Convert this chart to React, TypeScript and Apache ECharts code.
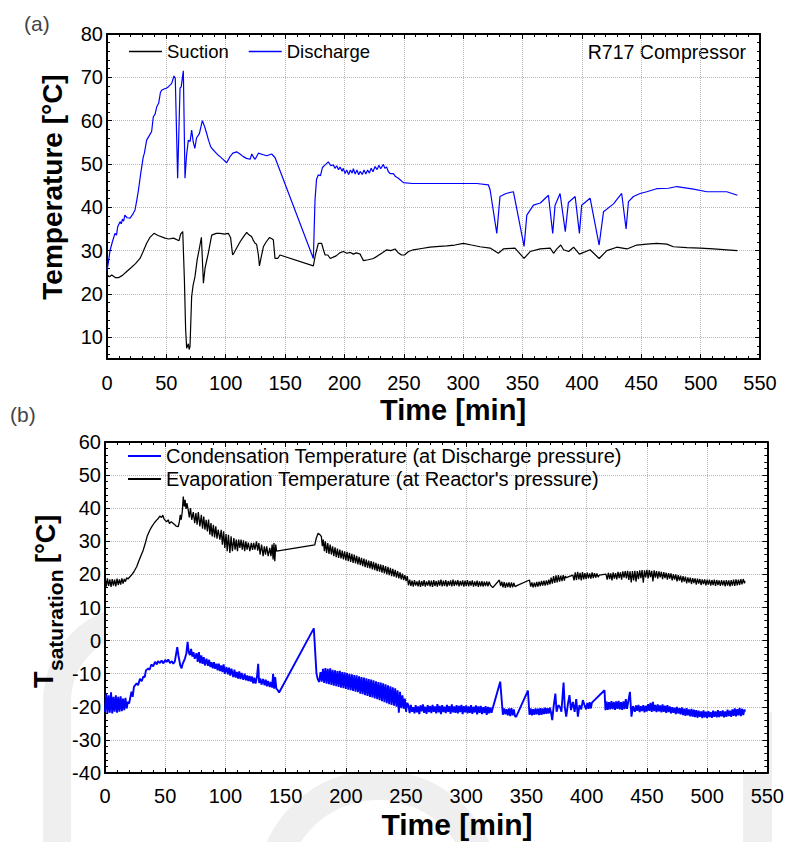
import React, { useEffect, useRef } from "react";
import * as echarts from "echarts";

const F = "'Liberation Sans', Arial, sans-serif";

// ---------- Panel (a): compressor temperatures [time min, °C] ----------
const suction: number[][] = [
  [0, 24.4], [2, 24.0], [4, 24.4], [7, 23.8], [10, 23.8], [13, 24.3], [16.6, 25.2], [20, 26], [24, 27], [27.8, 28.2],
  [30, 29.5], [33.4, 31.7], [36, 33], [39.6, 34], [43, 33.5], [48.9, 32.9], [52, 32.7], [56, 32.9], [60.7, 32.3],
  [62, 33.8], [63.8, 34.4], [65.2, 23.2], [66.2, 12], [67.1, 7.5], [68.5, 8.5], [69.2, 7.2], [69.9, 7.8], [71.3, 19.4],
  [72.5, 22], [74.1, 24], [76, 28], [77.8, 30.5], [79.5, 33.1], [81.2, 22.5], [82.6, 26], [85.3, 29.4], [88.2, 33.6],
  [92, 34], [95.2, 34], [99, 33.8], [102.2, 34], [104.1, 33], [105.8, 29], [107, 29.5], [109.2, 30.6], [112, 32],
  [114.9, 33.2], [117.7, 34.2], [119, 33.8], [121.9, 33.2], [123, 32.5], [124.7, 31.7], [126, 31.5], [127.5, 29],
  [128.4, 26.5], [129.5, 28], [131.7, 30.9], [134, 32], [136.8, 33], [138.5, 32.8], [140.1, 32.5], [141.5, 28.2],
  [143.8, 28.2], [145.7, 29], [173.8, 26.5], [175.5, 29], [178, 31.7], [180.8, 31.7], [182, 30.5], [183.7, 29],
  [186, 29], [188, 28.2], [190.6, 28.5], [193, 28.8], [196, 29.5], [199, 29.8], [202, 29.4], [205, 29.6], [207.5, 29.2],
  [210, 29.5], [213.2, 29.2], [214.5, 28.5], [216, 27.7], [220, 27.9], [224.4, 28.2], [228, 28.8], [232, 29.5],
  [235.6, 30.2], [239, 30], [242.6, 30.4], [245, 29.6], [248, 29], [250.5, 29], [254, 29.8], [258, 30.2], [265, 30.5],
  [272, 30.8], [280, 31], [286.2, 31.1], [293, 31.3], [300.2, 31.7], [307, 31.3], [314.2, 30.9], [322.7, 30.6],
  [329.6, 29.4], [333.8, 30.4], [343.6, 30.6], [351.3, 28.2], [356.4, 29.8], [364.8, 30.4], [373.3, 30.6], [376.1, 29.4],
  [378.9, 30.4], [382.2, 31.3], [384.5, 30.2], [388.8, 29.8], [393, 30.8], [397.9, 29.2], [406.9, 30.2], [414.5, 28.2],
  [421, 30], [429.4, 30.8], [437.9, 30.4], [446.2, 31.3], [454.6, 31.5], [463, 31.7], [471.5, 31.5], [477.1, 30.9],
  [488.4, 30.7], [499.6, 30.6], [510.9, 30.4], [522, 30.2], [531, 30],
];

const discharge: number[][] = [
  [0, 25.5], [1, 27], [2.6, 30.1], [4.5, 32], [6.7, 34], [8, 33.6], [9, 35.5], [11, 36.7], [12, 36.2], [13, 37.3],
  [14, 36.8], [15, 38.2], [17, 37.6], [19.4, 37.5], [21.5, 38.3], [23.6, 39.4], [25, 41.5], [26.5, 44], [28.5, 48],
  [30.5, 51.6], [31.5, 52.5], [33.4, 55.5], [35.5, 56.5], [37.6, 57.5], [39, 60.9], [40.5, 61.5], [41.9, 63.2],
  [43.5, 64], [45, 66.5], [46, 67], [48, 67.3], [50.3, 67.5], [52, 67.9], [54.5, 68.6], [56.4, 70.3], [57.5, 69.8],
  [59.5, 46.7], [61.5, 67.5], [62.5, 67.8], [64.3, 71.5], [65.7, 46.7], [67, 52], [68.5, 55.5], [70, 55.2], [71.3, 57.8],
  [72.7, 55], [74, 53.6], [75.4, 56], [77.8, 57], [80.3, 60], [82, 58.8], [83.9, 57.1], [85.5, 55.5], [87.3, 54],
  [89, 53.4], [91, 52.8], [93, 52.2], [95.2, 51.7], [98, 51], [100.8, 50.3], [103.6, 51.7], [106, 52.5], [109.2, 52.8],
  [112, 52.3], [114.8, 51.7], [117.5, 51.3], [120.5, 51.1], [122, 52.3], [123.5, 51.5], [124.8, 51.1], [127.5, 52.5],
  [131, 52.2], [134.5, 51.9], [138.7, 52.3], [141.5, 51.5], [173.8, 28.2], [175.2, 41.7], [176.5, 46.5], [178, 47.5],
  [179.8, 47.3], [181.5, 49.2], [183.7, 49.8], [186.4, 50.5], [188.5, 49.6], [190.6, 49.8], [192, 49], [193.5, 49.6],
  [195, 48.7], [196.3, 49.3], [198, 48.3], [199, 49], [200.5, 47.8], [201.9, 48.6], [203.5, 47.6], [205, 48.6],
  [206.5, 47.9], [207.5, 48.9], [209, 47.7], [210.5, 48.6], [212, 47.5], [213.2, 48.3], [215, 47.6], [216.5, 48.6],
  [218, 47.7], [219.5, 48.6], [221, 47.9], [222.5, 49], [224, 48.2], [225.8, 49.4], [227.5, 48.7], [229, 49.7],
  [230.5, 48.9], [232.8, 49.9], [234, 49], [235.5, 49.3], [237, 48.2], [238.5, 47.8], [241.2, 47.8], [243, 47.1],
  [245.4, 46.7], [249.7, 45.7], [256.9, 45.5], [270, 45.5], [286, 45.5], [300, 45.5], [311.5, 45.5], [321.2, 45.2],
  [322.7, 44], [328.3, 34], [331, 42.5], [336, 43.2], [342.3, 43.6], [351.3, 31], [353.6, 38.2], [359.2, 40.5],
  [365, 41], [371.8, 42.8], [375.4, 34], [377.4, 40.5], [381.6, 43.2], [386, 34.4], [388.6, 41.1], [394.3, 42.5],
  [397.9, 34], [399.8, 40.5], [406.9, 42.1], [414.5, 31.3], [418.2, 39], [426.6, 40.8], [433.5, 43.2], [437.2, 35],
  [439.2, 41.3], [443.4, 42.5], [449, 43.2], [454.6, 43.6], [463, 44.3], [472.9, 44.4], [480, 44.8], [494, 44.2],
  [505.3, 43.6], [515, 43.6], [522, 43.6], [531, 42.8],
];

// ---------- Panel (b): saturation temperatures [time min, °C] ----------
const condensation: number[][] = [
  [0, -21.5], [1, -16], [2, -22], [3, -16.5], [4, -21.8], [5, -15.6], [6, -22], [7, -17], [8, -21.5], [9, -16.5],
  [10, -21.8], [11, -17], [12, -21.5], [13, -16.8], [14, -21.3], [15, -17.5], [16, -21], [17, -17.3], [18, -20.5],
  [19, -18.5], [20, -19], [22, -15.4], [23, -17], [24, -14], [26.3, -12.9], [27.5, -13.5], [29, -11.5], [30.5, -12.3],
  [31.8, -10.9], [33, -11], [34, -9], [35.9, -8.4], [37, -8.8], [38.5, -7.2], [40, -7.8], [41.5, -6.4], [43, -7.2],
  [44, -6.2], [45.6, -6.8], [47, -6], [48.5, -6.9], [50, -5.8], [51.2, -6.5], [52.5, -5.7], [54, -6.8], [55.5, -6.2],
  [56.7, -7], [58, -6.3], [60, -2], [61, -4.5], [62.5, -7.5], [63.6, -8.4], [64.5, -7], [66.3, -5.5], [67.5, -4],
  [68.6, -0.4], [69.5, -3.5], [70.5, -4.4], [71.5, -2.5], [72.5, -4.8], [73.5, -3.5], [74.5, -5.5], [76, -3.8],
  [77, -6.4], [78, -3.5], [79, -6.8], [80, -4.5], [81, -7], [82, -5], [83, -7.5], [84.3, -5.5], [85.5, -7.6],
  [86.5, -5.8], [87.5, -8], [88.5, -6.5], [89.5, -8.4], [90.5, -6.5], [91.5, -8.5], [92.6, -7], [93.5, -9], [94.5, -7],
  [95.5, -9.2], [96.5, -7.5], [97.5, -9.5], [98.5, -7.2], [99.5, -10], [100.9, -8], [102, -10.2], [103, -8.2],
  [104, -10.6], [105, -8.5], [106.5, -11], [107.5, -8.8], [108.5, -11.2], [109.5, -9.5], [110.5, -11.5], [111.5, -9.3],
  [112.5, -11.6], [113.5, -9.8], [114.8, -11.8], [116, -10], [117, -12], [118, -10.5], [119, -12.2], [120, -10.7],
  [121, -12.4], [122, -10.8], [123, -12.9], [124, -11.2], [125, -13], [126.2, -11], [127.2, -7], [128, -12.8],
  [129, -11.4], [130, -13.3], [131.3, -11.6], [132.5, -13.5], [133.5, -11.8], [134.5, -13.8], [135.5, -12.2],
  [136.8, -14], [137.8, -12.5], [138.8, -14.2], [139.6, -10], [140.5, -14.5], [141.3, -11], [142.3, -14.5], [143.5, -15],
  [144.6, -15.7], [173.4, 3.7], [175.6, -9.9], [176.5, -11.5], [177.9, -12.5], [179, -9.5],
  [180, -12.4], [181, -8.5], [182, -12.8], [183, -8.3], [184, -13], [185, -8.5], [186, -13.2], [187, -8.4], [188, -13.4],
  [189, -8.8], [190, -13.6], [191, -9], [192, -13.8], [193, -9.2], [194, -14], [195, -9.1], [196, -14.2], [197, -9.5],
  [198, -14.4], [199, -9.6], [200, -14.6], [201, -9.8], [202, -14.8], [203, -10], [204, -15], [205, -10.2], [206, -15.2],
  [207, -10.4], [208, -15.4], [209, -10.5], [210, -15.6], [211, -10.8], [212, -16], [213, -11], [214, -16.2],
  [215, -11.2], [216, -16.5], [217, -11.4], [218, -16.7], [219, -11.6], [220, -17], [221, -11.8], [222, -17.2],
  [223, -12], [224, -17.5], [225, -12.3], [226, -17.7], [227, -12.5], [228, -18], [229, -12.7], [230, -18.3],
  [231, -12.9], [232, -18.6], [233, -13.2], [234, -18.9], [235, -13.5], [236, -19.2], [237, -13.8], [238, -19.4],
  [239, -14.1], [240, -19.7], [241, -14.4], [242, -20], [243, -15], [244, -21.8], [245, -15.5], [246, -20.4],
  [247, -16.5], [248, -20.6], [249, -17.5], [250, -21.5], [251, -18.8],
  [252, -19.6], [253, -21.9], [254, -19.4], [255, -21.5], [256, -20.1], [257, -22], [258, -19.5], [259, -21.7],
  [260, -19.9], [261, -22.2], [262, -19.6], [263, -21.4], [264, -19.3], [265, -21.8], [266, -20], [267, -22.1],
  [268, -19.5], [269, -21.6], [270, -19.8], [271, -21.9], [272, -19.4], [273, -21.5], [274, -19.9], [275, -22],
  [276, -19.2], [277, -21.7], [278, -19.7], [279, -22.2], [280, -19.5], [281, -21.6], [282, -20], [283, -21.9],
  [284, -19.4], [285, -21.5], [286, -19.8], [287, -22.1], [288, -19.3], [289, -21.7], [290, -19.9], [291, -21.8],
  [292, -19.5], [293, -22], [294, -19.7], [295, -21.6], [296, -19.4], [297, -22.2], [298, -19.8], [299, -21.7],
  [300, -19.6], [301, -22], [302, -19.9], [303, -21.8], [304, -19.5], [305, -22.1], [306, -20], [307, -21.7],
  [308, -19.6], [309, -22.3], [310, -19.9], [311, -21.8], [312, -19.7], [313, -22.2], [314, -20.1], [315, -21.9],
  [316, -19.8], [317, -22.4], [318, -20], [319, -22], [320, -20.2], [321, -21.8], [322, -20.4],
  [328.2, -12.4], [330.4, -22.4], [331.5, -20.5], [332.5, -22.3], [333.5, -20.7], [334.5, -22.6], [335.5, -20.5],
  [336.5, -22.8], [337.5, -20.4], [338.5, -22.6], [339.5, -20.8], [340.5, -22.9], [341.5, -23],
  [351.2, -15.1], [352.5, -22.4], [353.5, -20.5], [354.5, -22.6], [355.5, -20.7], [356.5, -22.4], [357.5, -20.5],
  [358.5, -22.3], [359.5, -20.6], [360.5, -22.5], [361.5, -20.4], [362.5, -22.4], [363.5, -20.5], [364.5, -22.2],
  [365.5, -20.3], [366.5, -22.1], [367.5, -20.4], [368.5, -22], [369.5, -20.3], [370.5, -22], [371.4, -24],
  [372.5, -20], [374, -16], [375, -21.5], [376.5, -19.5], [378, -20.2], [379, -21.5], [380.8, -12.7], [381.8, -20],
  [383, -23], [384.5, -19], [385.7, -16.5], [387, -21], [388.5, -18.5], [390, -21.5], [391.3, -17.7], [392.7, -23],
  [394, -19.5], [395.5, -20.8], [396.8, -18], [398.2, -19.5], [399.5, -20.8], [400.5, -18.8], [401.5, -20.6],
  [402.5, -18.6], [403.5, -20.5], [404.3, -18.8], [405, -18.5], [414.8, -15], [415.6, -21], [416.5, -18.4],
  [417.5, -20.9], [418.5, -18.6], [419.5, -20.8], [420.5, -18.3], [421.5, -20.7], [422.5, -18.5], [423.5, -20.9],
  [424.5, -18.4], [425.5, -20.6], [426.5, -18.2], [427.5, -20.8], [428.5, -18.6], [429.5, -20.9], [430.5, -18.4],
  [431.5, -20.7], [432.5, -17.7], [433.5, -20.6], [434.5, -18.5], [435.9, -15.5], [437.2, -23], [438.5, -19.8],
  [440, -21.5], [441, -19.6], [442, -21.2], [443, -19.4], [444, -21.6], [445, -19.8], [446, -21.3], [447, -19.5],
  [448, -21.7], [449, -19.7], [450, -21.4], [451, -19.2], [452, -21.2], [453, -18.8], [454, -21.5], [455, -18.5],
  [456, -21.3], [457, -19.4], [458, -21.6], [459, -19.3], [460, -21.4], [461, -19.6], [462, -21.7], [463, -19.3],
  [464, -21.5], [465, -19.7], [466, -21.8], [467, -19.5], [468, -21.6], [469, -19.9], [470, -22], [471, -20.1],
  [472, -21.8], [473, -20.3], [474, -22.2], [475, -20], [476, -22], [477, -20.4], [478, -22.3], [479, -20.2],
  [480, -22.5], [481, -20.6], [482, -22.7], [483, -20.4], [484, -22.6], [485, -20.8], [486, -22.9], [487, -20.6],
  [488, -23], [489, -20.9], [490, -23.1], [491, -21], [492, -23.3], [493, -21.2], [494, -23], [495, -21.4],
  [496, -23.4], [497, -21.1], [498, -23.2], [499, -21.5], [500, -23.4], [501, -21.3], [502, -23.1], [503, -21.6],
  [504, -23.3], [505, -21.2], [506, -23], [507, -21.4], [508, -23.2], [509, -21], [510, -23.1], [511, -21.3],
  [512, -22.9], [513, -21.1], [514, -23.2], [515, -21.4], [516, -23], [517, -20.9], [518, -22.8], [519, -21.2],
  [520, -23], [521, -20.8], [522, -22.7], [523, -20.5], [524, -22.9], [525, -20.7], [526, -22.6], [527, -20.3],
  [528, -22.8], [529, -20.6], [530, -22.5], [531, -20.8], [531.5, -21.5],
];

const evaporation: number[][] = [
  [0, 19.3], [1, 16.3], [2, 18.8], [3, 16.5], [4, 18.5], [5, 16.2], [6, 18.6], [7, 16.6], [8, 18.4], [9, 16.4],
  [10, 18.7], [11, 16.8], [12, 18.5], [13, 16.9], [14, 18.8], [15, 17.2], [16, 18.6], [17, 17.8], [18, 19], [19, 18.6],
  [20.7, 19.3], [22, 19.8], [24, 20.8], [26.3, 22.3], [28, 24], [30, 25.8], [31.8, 27.4], [33.5, 29.5], [35, 31.5],
  [37.3, 33.4], [39, 34.5], [41, 35.6], [42.9, 36.4], [44, 36.8], [45.5, 37.6], [47, 37.2], [48, 37.9], [49, 36.8],
  [50, 36.3], [51.2, 35.9], [52.5, 36.5], [53.5, 35.4], [55, 35.9], [56.7, 35.4], [58, 35], [59, 34.6], [60.8, 34.4],
  [61.8, 36], [62.5, 38], [63.3, 36.5], [64.2, 39], [65, 43.5], [65.8, 40.5], [66.5, 42.5], [67.3, 39.8], [68, 41.5],
  [69.1, 39.5], [70, 37.2], [71, 40], [72, 36.5], [73.3, 38.8], [74.5, 35.5], [75.5, 38.5], [76.5, 35], [77.5, 38.8],
  [78.8, 34.5], [80, 38], [81, 33.8], [82, 37.5], [83, 33.5], [84, 36.5], [85, 33], [86, 36.6], [87.1, 32], [88, 35.5],
  [89, 31.5], [90, 35], [91, 31.2], [92, 34.5], [93, 30.8], [94, 33.5], [95.4, 30.5], [96.5, 33.5], [97.5, 29],
  [98.5, 33], [99.5, 28], [100.5, 32.2], [101.5, 27], [102.5, 32], [103.7, 26.5], [104.7, 31.5], [105.8, 27], [107, 31],
  [108, 27.5], [109, 30.5], [110, 27], [111, 30.5], [112, 28], [113, 30.5], [114, 27.5], [115, 30.3], [116, 27],
  [117, 30], [118, 27.5], [119, 29.6], [120.3, 27], [121.5, 29.5], [122.5, 27.4], [123.5, 29.5], [124.5, 27.5],
  [125.8, 30], [126.8, 27.2], [127.8, 29.5], [128.8, 26], [130, 29], [131.3, 25.5], [132.3, 28.5], [133.3, 26],
  [134.3, 28.5], [135.5, 25.5], [136.8, 28], [137.8, 25.5], [138.8, 29], [139.6, 24.5], [140.3, 29.5], [141, 24],
  [141.8, 29], [142.5, 27], [174.2, 28.9], [175.5, 31], [177, 32.4], [178.5, 32], [179.7, 31.4], [180.5, 28.5],
  [181.3, 30.5], [182.2, 27], [183, 30], [184, 26.5], [185, 29.5], [186, 26.2], [187, 29], [188, 26], [189, 28.5],
  [190, 25.5], [191, 28.2], [192, 25.2], [193, 27.8], [194, 25], [195, 27.5], [196, 24.8], [197, 27.2], [198, 24.5],
  [199, 27], [200, 24.2], [201, 26.8], [202, 24], [203, 26.5], [204, 23.8], [205, 26.2], [206, 23.5], [207, 26],
  [208, 23.3], [209, 25.6], [210, 23], [211, 25.3], [212, 22.8], [213, 25], [214, 22.5], [215, 24.8], [216, 22.2],
  [217, 24.5], [218, 22], [219, 24.2], [220, 21.8], [221, 24], [222, 21.5], [223, 23.8], [224, 21.3], [225, 23.5],
  [226, 21], [227, 23.2], [228, 20.8], [229, 23], [230, 20.5], [231, 22.8], [232, 20.3], [233, 22.5], [234, 20],
  [235, 22.3], [236, 19.8], [237, 22], [238, 19.5], [239, 21.7], [240, 19.3], [241, 21.4], [242, 19], [243, 21],
  [244, 18.8], [245, 20.6], [246, 18.5], [247, 20.2], [248, 18.3], [249, 19.8], [250, 18], [251, 19.5],
  [252, 16.7], [253, 18.4], [254, 16.5], [255, 18.1], [256, 16.3], [257, 18.3], [258, 16.6], [259, 17.9], [260, 16.4],
  [261, 18.2], [262, 16.2], [263, 18], [264, 16.5], [265, 18.3], [266, 16.3], [267, 17.9], [268, 16.6], [269, 18.2],
  [270, 16.4], [271, 18.1], [272, 16.2], [273, 18.3], [274, 16.5], [275, 18], [276, 16.3], [277, 18.2], [278, 16.6],
  [279, 18.4], [280, 16.4], [281, 18.1], [282, 16.5], [283, 18.3], [284, 16.3], [285, 18], [286, 16.6], [287, 18.2],
  [288, 16.4], [289, 18.4], [290, 16.5], [291, 18.1], [292, 16.7], [293, 18.3], [294, 16.4], [295, 18], [296, 16.6],
  [297, 18.2], [298, 16.3], [299, 18.1], [300, 16.5], [301, 18.3], [302, 16.4], [303, 18], [304, 16.6], [305, 18.2],
  [306, 16.3], [307, 17.9], [308, 16.5], [309, 18.1], [310, 16.2], [311, 17.9], [312, 16.4], [313, 18], [314, 16.3],
  [315, 17.8], [316, 16.5], [317, 17.9], [318, 16.4], [319, 17.8], [320, 16.8], [322, 16],
  [327.5, 18.3], [328.5, 16.5], [329.5, 17.8], [330.5, 16.1], [331.5, 17.7], [332.5, 15.9], [333.5, 17.5],
  [334.5, 16.2], [335.5, 17.6], [336.5, 16], [337.5, 17.6], [338.5, 16.1], [339.5, 17.4], [340.5, 16.3], [342, 16.6],
  [352.5, 18.3], [353.5, 16.3], [354.5, 17.6], [355.5, 16.1], [356.5, 17.5], [357.5, 16.2], [358.5, 17.7],
  [359.5, 16.3], [360.5, 17.8], [361.5, 16.5], [362.5, 18], [363.5, 16.6], [364.5, 18.1], [365.5, 16.6], [366.5, 18.2],
  [367.5, 16.8], [368.5, 18.4], [369.5, 17], [370.5, 19], [371.5, 17.2], [372.5, 19.5], [373.5, 17.4], [374.5, 19.7],
  [375.5, 17.6], [376.5, 19.8], [377.5, 17.8], [378.5, 19.6], [379.5, 18], [380.5, 19.8], [381.5, 18.1],
  [382.2, 19.5], [383, 19], [388.5, 19.8], [389.5, 18.2], [390.5, 20.6], [391.5, 18.3], [392.5, 20.8], [393.5, 18.5],
  [394.5, 20.5], [395.5, 18.2], [396.5, 20.7], [397.5, 18.5], [398.5, 20.4], [399.5, 18.6], [400.5, 20.5],
  [401.5, 18.8], [402.5, 20.3], [403.5, 18.7], [404.5, 20.6], [405.5, 18.9], [406.5, 20.4], [407.5, 19],
  [408.5, 20.3], [409.5, 19.2], [410.5, 19.8],
  [416, 20.1], [417, 18.4], [418, 20.5], [419, 18.6], [420, 20.3], [421, 18.2], [422, 20.6], [423, 18.7], [424, 20.4],
  [425, 18.5], [426, 20.8], [427, 18.9], [428, 20.6], [429, 18.4], [430, 20.9], [431, 19], [432, 21], [433, 18.8],
  [434, 21.1], [435, 18.3], [436, 20.9], [437, 17.6], [438, 21], [439, 18.2], [440, 21.1], [441, 17.8], [442, 21],
  [443, 18.6], [444, 21.2], [445, 18.9], [446, 21.3], [447, 17.5], [448, 21.2], [449, 19.1], [450, 21.4], [451, 18.8],
  [452, 21.3], [453, 19.2], [454, 21.1], [455, 17.9], [456, 21.2], [457, 19], [458, 21], [459, 18.7], [460, 20.9],
  [461, 19.1], [462, 20.8], [463, 18.6], [464, 20.7], [465, 18.9], [466, 20.5], [467, 18.4], [468, 20.4], [469, 18.7],
  [470, 20.3], [471, 18.2], [472, 20.1], [473, 18.4], [474, 20], [475, 17.9], [476, 19.8], [477, 18.1], [478, 19.6],
  [479, 17.6], [480, 19.5], [481, 17.8], [482, 19.3], [483, 17.3], [484, 19.1], [485, 17.5], [486, 19], [487, 17.1],
  [488, 18.9], [489, 17.4], [490, 18.8], [491, 16.9], [492, 18.7], [493, 17.2], [494, 18.6], [495, 16.8], [496, 18.5],
  [497, 17.1], [498, 18.5], [499, 16.7], [500, 18.4], [501, 16.9], [502, 18.4], [503, 16.6], [504, 18.3], [505, 16.8],
  [506, 18.4], [507, 16.5], [508, 18.3], [509, 16.8], [510, 18.2], [511, 16.5], [512, 18.3], [513, 16.7], [514, 18.2],
  [515, 16.4], [516, 18.3], [517, 16.6], [518, 18.2], [519, 16.4], [520, 18.3], [521, 16.6], [522, 18.4], [523, 16.5],
  [524, 18.5], [525, 16.7], [526, 18.4], [527, 16.8], [528, 18.6], [529, 17], [530, 18.6], [531, 17.3], [531.5, 18],
];

const seriesNamesA = ["Suction", "Discharge"];
const seriesNamesB = [
  "Condensation Temperature (at Discharge pressure)",
  "Evaporation Temperature (at Reactor's pressure)",
];

function xAxisDef(gridIndex: number, pos: "bottom" | "top", margin: number) {
  const main = pos === "bottom";
  return {
    type: "value",
    gridIndex,
    position: pos,
    min: 0,
    max: 550,
    interval: 50,
    axisLine: { show: true, onZero: false, lineStyle: { color: "#000", width: 2 } },
    axisTick: { show: true, inside: true, length: 5, lineStyle: { color: "#000", width: 1 } },
    minorTick: { show: true, splitNumber: 5, length: 3, lineStyle: { color: "#000", width: 1 } },
    axisLabel: { show: main, fontSize: 20, color: "#000", fontFamily: F, margin },
    splitLine: { show: main, lineStyle: { color: "#b8b8b8", width: 1, type: "dotted" } },
    minorSplitLine: { show: false },
  };
}

function yAxisDef(gridIndex: number, pos: "left" | "right", range: any) {
  const main = pos === "left";
  return {
    type: "value",
    gridIndex,
    position: pos,
    ...range,
    axisLine: { show: true, onZero: false, lineStyle: { color: "#000", width: 2 } },
    axisTick: { show: true, inside: true, length: 5, lineStyle: { color: "#000", width: 1 } },
    minorTick: { show: true, splitNumber: 5, length: 3, lineStyle: { color: "#000", width: 1 } },
    axisLabel: { show: main, fontSize: 20, color: "#000", fontFamily: F, margin: 4, showMinLabel: range.min !== 5 },
    splitLine: { show: main, lineStyle: { color: "#b8b8b8", width: 1, type: "dotted" } },
  };
}

const rangeA = { min: 5, max: 80, splitNumber: 7 };
const rangeB = { min: -40, max: 60, interval: 10 };

const WM = "#efefef";

export default function App() {
  const ref = useRef<HTMLDivElement>(null);
  useEffect(() => {
    document.body.style.margin = "0";
    if (!ref.current) return;
    const chart = echarts.init(ref.current, undefined, { renderer: "svg" });
    const bold = { fontFamily: F, fontWeight: "bold", fill: "#000" };
    chart.setOption({
      animation: false,
      backgroundColor: "#fff",
      grid: [
        { left: 107, top: 34, width: 653, height: 325, show: true, backgroundColor: "#fff", borderWidth: 0 },
        { left: 105, top: 442, width: 663, height: 331, show: true, backgroundColor: "#fff", borderWidth: 0 },
      ],
      xAxis: [xAxisDef(0, "bottom", 14), xAxisDef(0, "top", 14), xAxisDef(1, "bottom", 13), xAxisDef(1, "top", 13)],
      yAxis: [yAxisDef(0, "left", rangeA), yAxisDef(0, "right", rangeA), yAxisDef(1, "left", rangeB), yAxisDef(1, "right", rangeB)],
      legend: [
        {
          data: seriesNamesA.map((n) => ({ name: n, icon: "rect" })),
          left: 129,
          top: 42,
          padding: 0,
          orient: "horizontal",
          itemWidth: 33,
          itemHeight: 1.5,
          itemGap: 20,
          selectedMode: false,
          textStyle: { fontSize: 18.5, color: "#000", fontFamily: F },
        },
        {
          data: seriesNamesB.map((n) => ({ name: n, icon: "rect" })),
          left: 128,
          top: 446,
          padding: 0,
          orient: "vertical",
          itemWidth: 33,
          itemHeight: 1.8,
          itemGap: 3,
          selectedMode: false,
          textStyle: { fontSize: 20, color: "#000", fontFamily: F },
        },
      ],
      series: [
        { name: seriesNamesA[0], type: "line", xAxisIndex: 0, yAxisIndex: 0, data: suction, symbol: "none", color: "#000", lineStyle: { color: "#000", width: 1.2 } },
        { name: seriesNamesA[1], type: "line", xAxisIndex: 0, yAxisIndex: 0, data: discharge, symbol: "none", color: "#0000ff", lineStyle: { color: "#0000ff", width: 1.2 } },
        { name: seriesNamesB[0], type: "line", xAxisIndex: 2, yAxisIndex: 2, data: condensation, symbol: "none", color: "#0000ff", lineStyle: { color: "#0000ff", width: 1.9 } },
        { name: seriesNamesB[1], type: "line", xAxisIndex: 2, yAxisIndex: 2, data: evaporation, symbol: "none", color: "#000", lineStyle: { color: "#000", width: 1.3 } },
      ],
      graphic: [
        // faint background watermark (visible outside the plot areas only)
        { type: "rect", z: -10, silent: true, shape: { x: 43, y: 700, width: 28, height: 150 }, style: { fill: WM } },
        { type: "arc", z: -10, silent: true, shape: { cx: 140, cy: 702, r: 83, startAngle: Math.PI, endAngle: Math.PI * 1.5 }, style: { stroke: WM, lineWidth: 28, fill: "none" } },
        { type: "ring", z: -10, silent: true, shape: { cx: 378, cy: 892, r: 122, r0: 92 }, style: { fill: WM } },
        { type: "rect", z: -10, silent: true, shape: { x: 743, y: 712, width: 29, height: 140 }, style: { fill: WM } },
        { type: "text", x: 24, y: 23, style: { text: "(a)", fontSize: 21, fontFamily: F, fill: "#444", verticalAlign: "middle" } },
        { type: "text", x: 10, y: 414, style: { text: "(b)", fontSize: 21, fontFamily: F, fill: "#444", verticalAlign: "middle" } },
        { type: "text", x: 746, y: 52, style: { text: "R717 Compressor", fontSize: 19.5, fontFamily: F, fill: "#000", align: "right", verticalAlign: "middle" } },
        { type: "text", x: 453, y: 410, style: { ...bold, text: "Time [min]", fontSize: 29, align: "center", verticalAlign: "middle" } },
        { type: "text", x: 457, y: 824, style: { ...bold, text: "Time [min]", fontSize: 30, align: "center", verticalAlign: "middle" } },
        { type: "text", x: 52, y: 187, rotation: Math.PI / 2, style: { ...bold, text: "Temperature [°C]", fontSize: 28, align: "center", verticalAlign: "middle" } },
        { type: "text", x: 44, y: 688, rotation: Math.PI / 2, style: { ...bold, text: "T", fontSize: 27, align: "left", verticalAlign: "middle" } },
        { type: "text", x: 55, y: 671, rotation: Math.PI / 2, style: { ...bold, text: "saturation", fontSize: 21, align: "left", verticalAlign: "middle" } },
        { type: "text", x: 46, y: 563, rotation: Math.PI / 2, style: { ...bold, text: "[°C]", fontSize: 27, align: "left", verticalAlign: "middle" } },
      ],
    });
    return () => chart.dispose();
  }, []);
  return <div ref={ref} style={{ width: 787, height: 842 }} />;
}
